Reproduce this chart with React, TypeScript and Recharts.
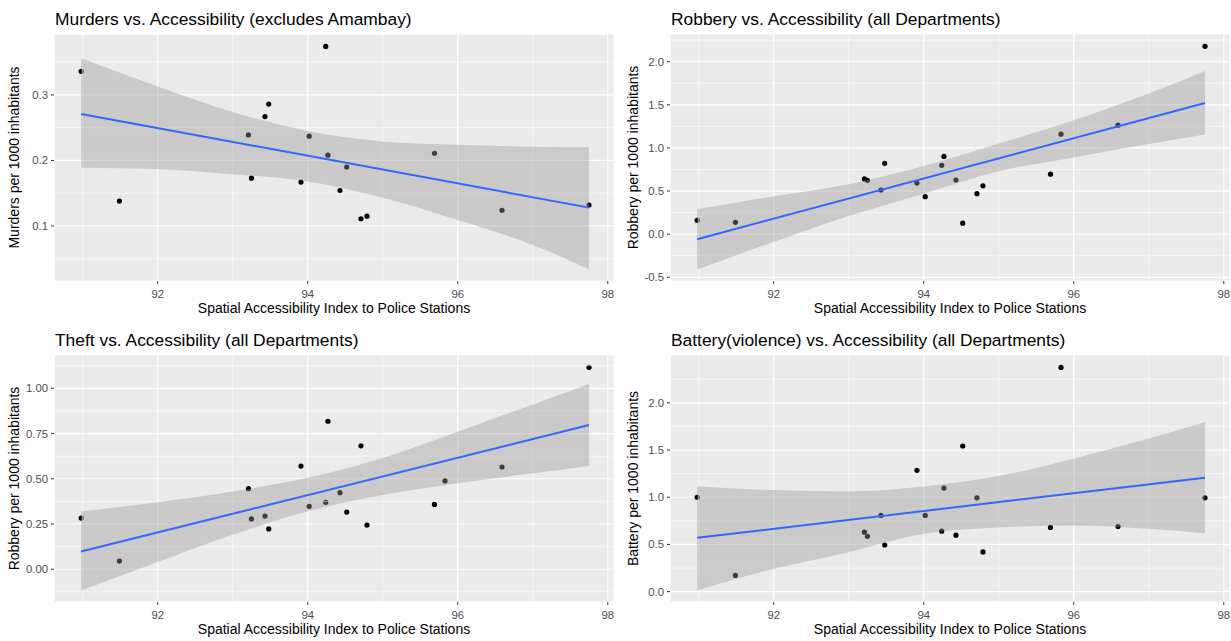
import React from "react";
import {
  ComposedChart,
  XAxis,
  YAxis,
  CartesianGrid,
  ReferenceLine,
  Scatter,
  Area,
  Line,
} from "recharts";

// spatial accessibility index per department (shared x values)
const accessIndex = [
  90.98, 91.49, 93.21, 93.25, 93.43, 93.48, 93.91, 94.02, 94.24, 94.27, 94.43,
  94.52, 94.71, 94.79, 95.69, 95.83, 96.59, 97.75,
];

// rates per 1000 inhabitants (null = Amambay excluded)
const murders = [
  0.336, 0.138, 0.239, 0.173, 0.267, 0.286, 0.167, 0.237, 0.374, 0.208, 0.154,
  0.19, 0.111, 0.115, 0.211, null, 0.124, 0.132,
];
const robbery = [
  0.16, 0.137, 0.64, 0.624, 0.512, 0.821, 0.593, 0.435, 0.798, 0.902, 0.628,
  0.128, 0.47, 0.56, 0.696, 1.159, 1.264, 2.178,
];
const theft = [
  0.283, 0.045, 0.445, 0.278, 0.294, 0.223, 0.57, 0.348, 0.37, 0.818, 0.423,
  0.316, 0.682, 0.244, 0.358, 0.488, 0.565, 1.116,
];
const battery = [
  1.0, 0.172, 0.63, 0.586, 0.807, 0.494, 1.285, 0.807, 0.64, 1.097, 0.598,
  1.543, 0.994, 0.421, 0.68, 2.375, 0.69, 0.994,
];

// confidence band of the linear fit, read at these x values
const bandX = [90.98, 92, 93, 94, 95, 96, 97, 97.75];
const murdersLow = [0.189, 0.187, 0.179, 0.168, 0.143, 0.109, 0.071, 0.034];
const murdersHigh = [0.356, 0.313, 0.274, 0.245, 0.229, 0.224, 0.221, 0.22];
const robberyLow = [-0.41, -0.09, 0.21, 0.47, 0.73, 0.89, 1.045, 1.155];
const robberyHigh = [0.29, 0.44, 0.58, 0.79, 1.05, 1.32, 1.63, 1.893];
const theftLow = [-0.118, 0.04, 0.19, 0.32, 0.41, 0.475, 0.53, 0.571];
const theftHigh = [0.319, 0.37, 0.43, 0.505, 0.615, 0.76, 0.91, 1.024];
const batteryLow = [0.011, 0.241, 0.418, 0.612, 0.68, 0.701, 0.665, 0.619];
const batteryHigh = [1.115, 1.076, 1.062, 1.115, 1.225, 1.409, 1.621, 1.798];

// fitted line end points
const fitX = [90.98, 97.75];
const murdersFit = [0.271, 0.128];
const robberyFit = [-0.058, 1.52];
const theftFit = [0.098, 0.797];
const batteryFit = [0.57, 1.207];

const xDomain = [90.618, 98.083];
const xTicks = [92, 94, 96, 98];
const xMinor = [91, 93, 95, 97];

const xTitle = "Spatial Accessibility Index to Police Stations";

const dot = (props: any) => (
  <circle cx={props.cx} cy={props.cy} r={2.6} fill="#000000" />
);

interface PanelProps {
  title: string;
  yLabel: string;
  values: (number | null)[];
  low: number[];
  high: number[];
  fit: number[];
  yDomain: number[];
  yTicks: number[];
  yMinor: number[];
  digits: number;
  yLabelX: number;
  left: number;
  top: number;
}

const Panel = ({
  title,
  yLabel,
  values,
  low,
  high,
  fit,
  yDomain,
  yTicks,
  yMinor,
  digits,
  yLabelX,
  left,
  top,
}: PanelProps) => {
  const points = accessIndex
    .map((x, i) => ({ x, y: values[i] }))
    .filter((p) => p.y !== null);
  const band = bandX.map((x, i) => ({ x, band: [low[i], high[i]] }));
  const line = fitX.map((x, i) => ({ x, fit: fit[i] }));

  return (
    <div style={{ position: "absolute", left, top, width: 615, height: 320 }}>
      <div
        style={{
          position: "absolute",
          left: 55,
          top: 11,
          fontSize: 17.4,
          lineHeight: "17px",
          whiteSpace: "nowrap",
          color: "#000",
        }}
      >
        {title}
      </div>
      <ComposedChart
        width={615}
        height={320}
        margin={{ top: 34, right: 1, bottom: 0, left: 0 }}
      >
        <CartesianGrid fill="#EBEBEB" stroke="#FFFFFF" strokeWidth={1.2} />
        {xMinor.map((v) => (
          <ReferenceLine key={`mx${v}`} x={v} stroke="#FFFFFF" strokeWidth={0.6} />
        ))}
        {yMinor.map((v) => (
          <ReferenceLine key={`my${v}`} y={v} stroke="#FFFFFF" strokeWidth={0.6} />
        ))}
        <XAxis
          type="number"
          dataKey="x"
          domain={xDomain}
          ticks={xTicks}
          allowDataOverflow
          height={39}
          tickSize={3}
          tickMargin={6}
          axisLine={false}
          tickLine={{ stroke: "#333333" }}
          tick={{ fill: "#4D4D4D", fontSize: 11.3 }}
          label={{
            value: xTitle,
            position: "insideBottom",
            offset: 7,
            style: { fill: "#000000", fontSize: 14 },
          }}
        />
        <YAxis
          type="number"
          domain={yDomain}
          ticks={yTicks}
          allowDataOverflow
          width={54}
          tickSize={3}
          tickMargin={3}
          axisLine={false}
          tickLine={{ stroke: "#333333" }}
          tick={{ fill: "#4D4D4D", fontSize: 11.3 }}
          tickFormatter={(v: number) => v.toFixed(digits)}
          label={{
            value: yLabel,
            angle: -90,
            position: "insideLeft",
            offset: yLabelX,
            style: { textAnchor: "middle", fill: "#000000", fontSize: 14 },
          }}
        />
        <Scatter
          data={points}
          dataKey="y"
          shape={dot}
          zIndex={300}
          isAnimationActive={false}
        />
        <Area
          data={band}
          dataKey="band"
          type="monotone"
          stroke="none"
          fill="#999999"
          fillOpacity={0.4}
          activeDot={false}
          zIndex={700}
          isAnimationActive={false}
        />
        <Line
          data={line}
          dataKey="fit"
          type="linear"
          stroke="#3366FF"
          strokeWidth={2}
          dot={false}
          activeDot={false}
          zIndex={800}
          isAnimationActive={false}
        />
      </ComposedChart>
    </div>
  );
};

export default function App() {
  return (
    <div
      style={{
        position: "absolute",
        left: 0,
        top: 0,
        width: 1231,
        height: 641,
        background: "#FFFFFF",
        fontFamily: "'Liberation Sans', Arial, sans-serif",
      }}
    >
      <Panel
        title="Murders vs. Accessibility (excludes Amambay)"
        yLabel="Murders per 1000 inhabitants"
        values={murders}
        low={murdersLow}
        high={murdersHigh}
        fit={murdersFit}
        yDomain={[0.016, 0.393]}
        yTicks={[0.1, 0.2, 0.3]}
        yMinor={[0.05, 0.15, 0.25, 0.35]}
        digits={1}
        yLabelX={14}
        left={0}
        top={0}
      />
      <Panel
        title="Robbery vs. Accessibility (all Departments)"
        yLabel="Robbery per 1000 inhabitants"
        values={robbery}
        low={robberyLow}
        high={robberyHigh}
        fit={robberyFit}
        yDomain={[-0.543, 2.321]}
        yTicks={[-0.5, 0, 0.5, 1, 1.5, 2]}
        yMinor={[-0.25, 0.25, 0.75, 1.25, 1.75, 2.25]}
        digits={1}
        yLabelX={17}
        left={616}
        top={0}
      />
      <Panel
        title="Theft vs. Accessibility (all Departments)"
        yLabel="Robbery per 1000 inhabitants"
        values={theft}
        low={theftLow}
        high={theftHigh}
        fit={theftFit}
        yDomain={[-0.181, 1.184]}
        yTicks={[0, 0.25, 0.5, 0.75, 1]}
        yMinor={[-0.125, 0.125, 0.375, 0.625, 0.875, 1.125]}
        digits={2}
        yLabelX={14}
        left={0}
        top={321}
      />
      <Panel
        title="Battery(violence) vs. Accessibility (all Departments)"
        yLabel="Battery per 1000 inhabitants"
        values={battery}
        low={batteryLow}
        high={batteryHigh}
        fit={batteryFit}
        yDomain={[-0.11, 2.507]}
        yTicks={[0, 0.5, 1, 1.5, 2]}
        yMinor={[0.25, 0.75, 1.25, 1.75, 2.25]}
        digits={1}
        yLabelX={17}
        left={616}
        top={321}
      />
    </div>
  );
}
